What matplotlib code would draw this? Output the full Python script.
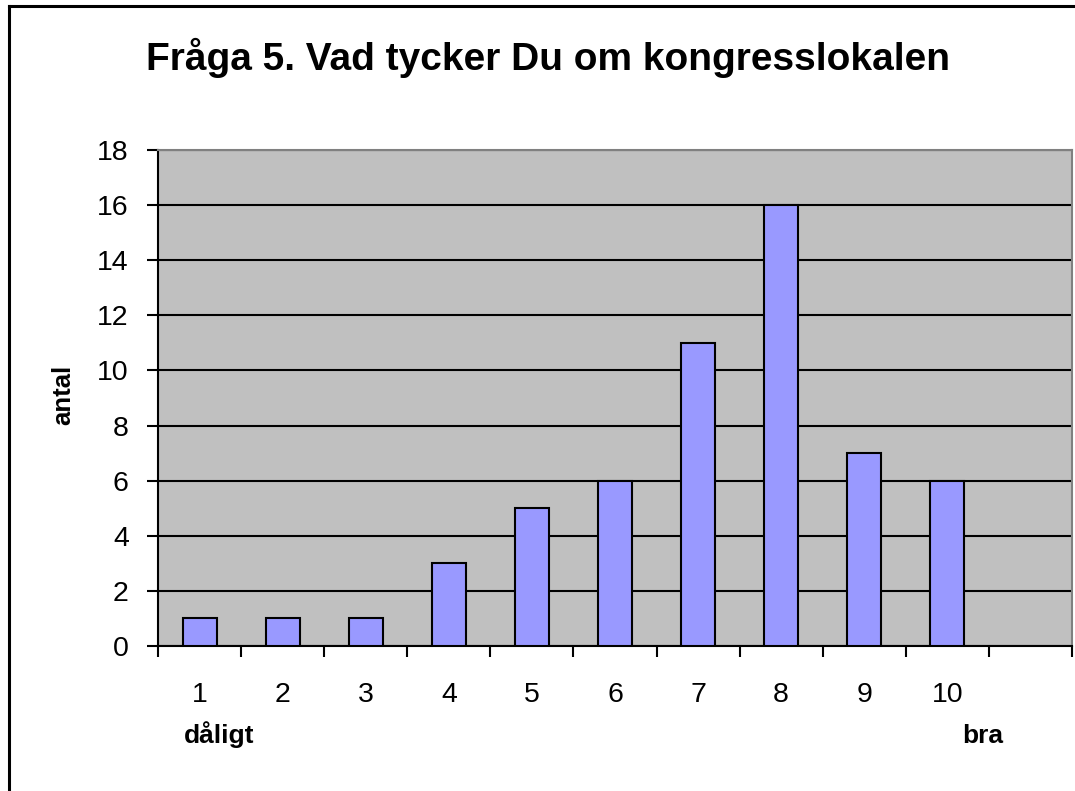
import numpy as np
import matplotlib
matplotlib.use("Agg")
import matplotlib.pyplot as plt
from matplotlib.lines import Line2D

plt.rcParams["font.family"] = ["Liberation Sans", "DejaVu Sans"]

categories = ["1", "2", "3", "4", "5", "6", "7", "8", "9", "10", ""]
counts = [1, 1, 1, 3, 5, 6, 11, 16, 7, 6, np.nan]
yticks = [0, 2, 4, 6, 8, 10, 12, 14, 16, 18]
title = "Fråga 5. Vad tycker Du om kongresslokalen"

W, H = 1075, 791
fig = plt.figure(figsize=(W / 100, H / 100), dpi=100)
ax = fig.add_axes([158 / W, 1 - 646 / H, (1072 - 158) / W, (646 - 150) / H])
ax.set_facecolor("#C0C0C0")

x = np.arange(len(categories))
ax.set_axisbelow(True)
ax.grid(axis="y", color="black", linewidth=1.5)
ax.bar(x, counts, width=0.41, color="#9999FF", edgecolor="black", linewidth=1.5, zorder=3)

ax.set_xlim(-0.5, len(categories) - 0.5)
ax.set_ylim(0, 18)
ax.set_yticks(yticks)
ax.tick_params(axis="y", direction="out", length=8, width=1.5, pad=13, labelsize=20.5)

# ticks at the category boundaries, labels at the centres
ax.set_xticks(np.arange(len(categories) + 1) - 0.5)
ax.set_xticklabels([])
ax.set_xticks(x, minor=True)
ax.set_xticklabels(categories, minor=True)
ax.tick_params(axis="x", which="major", direction="out", length=8, width=1.5)
ax.tick_params(axis="x", which="minor", length=0, pad=26, labelsize=20.5)

for s in ["top", "right"]:
    ax.spines[s].set_color("#808080")
    ax.spines[s].set_linewidth(1.5)
for s in ["left", "bottom"]:
    ax.spines[s].set_color("black")
    ax.spines[s].set_linewidth(1.5)

fig.text(548 / W, 1 - 70 / H, title, ha="center", va="baseline",
         fontsize=28, fontweight="bold")
fig.text(70 / W, 1 - 395 / H, "antal", rotation=90, rotation_mode="anchor",
         ha="center", va="baseline", fontsize=18.5, fontweight="bold")
fig.text(219 / W, 1 - 743 / H, "dåligt", ha="center", va="baseline",
         fontsize=19, fontweight="bold")
fig.text(983 / W, 1 - 743 / H, "bra", ha="center", va="baseline",
         fontsize=19, fontweight="bold")

# outer chart frame (only left and top edges fall inside the picture)
fig.add_artist(Line2D([8.5 / W, 8.5 / W], [0, 1 - 6 / H], color="black", linewidth=2.2))
fig.add_artist(Line2D([8.5 / W, 1], [1 - 6 / H, 1 - 6 / H], color="black", linewidth=2.2))

fig.savefig("out.png", dpi=100)
